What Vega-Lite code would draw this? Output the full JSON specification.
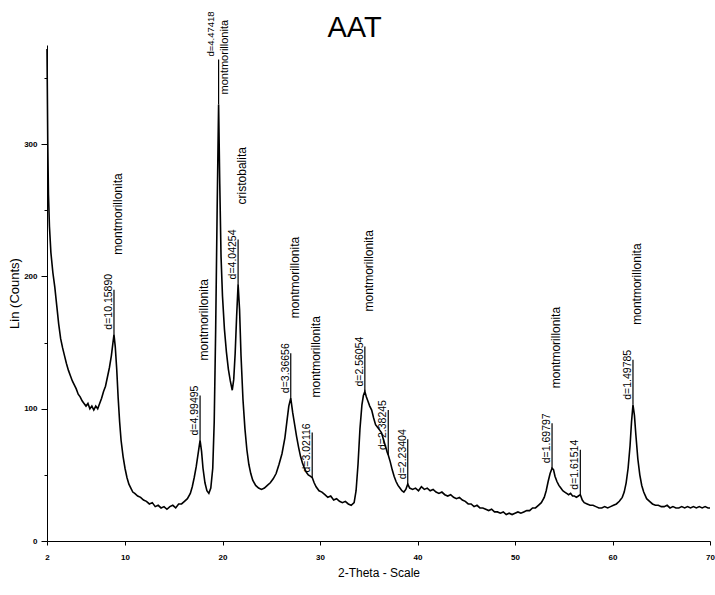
{
  "$schema": "https://vega.github.io/schema/vega-lite/v6.json",
  "width": 663,
  "height": 496,
  "autosize": {"type": "none"},
  "padding": {"left": 47, "top": 45, "right": 5, "bottom": 54},
  "background": "white",
  "title": {"text": "AAT", "font": "Liberation Sans", "fontSize": 29, "fontWeight": "normal", "color": "black", "anchor": "middle", "baseline": "alphabetic", "dx": -24, "dy": 55, "offset": 0},
  "config": {"view": {"stroke": null}, "font": "Liberation Sans"},
  "datasets": {
    "pattern": [
      {"two_theta": 2.0, "counts": 372}, {"two_theta": 2.08, "counts": 300}, {"two_theta": 2.15, "counts": 262}, {"two_theta": 2.25, "counts": 238}, {"two_theta": 2.4, "counts": 218}, {"two_theta": 2.6, "counts": 203}, {"two_theta": 2.8, "counts": 192}, {"two_theta": 3.0, "counts": 178}, {"two_theta": 3.2, "counts": 164}, {"two_theta": 3.4, "counts": 153}, {"two_theta": 3.6, "counts": 146}, {"two_theta": 3.8, "counts": 140}, {"two_theta": 4.0, "counts": 134}, {"two_theta": 4.2, "counts": 129}, {"two_theta": 4.4, "counts": 125}, {"two_theta": 4.6, "counts": 121}, {"two_theta": 4.8, "counts": 118}, {"two_theta": 5.0, "counts": 115}, {"two_theta": 5.2, "counts": 111}, {"two_theta": 5.4, "counts": 109}, {"two_theta": 5.6, "counts": 106}, {"two_theta": 5.8, "counts": 104}, {"two_theta": 6.0, "counts": 102}, {"two_theta": 6.2, "counts": 104}, {"two_theta": 6.4, "counts": 100}, {"two_theta": 6.6, "counts": 102}, {"two_theta": 6.8, "counts": 99}, {"two_theta": 7.0, "counts": 102}, {"two_theta": 7.2, "counts": 100}, {"two_theta": 7.4, "counts": 104}, {"two_theta": 7.6, "counts": 108}, {"two_theta": 7.8, "counts": 113}, {"two_theta": 8.0, "counts": 117}, {"two_theta": 8.2, "counts": 124}, {"two_theta": 8.4, "counts": 131}, {"two_theta": 8.6, "counts": 140}, {"two_theta": 8.75, "counts": 149}, {"two_theta": 8.87, "counts": 156}, {"two_theta": 9.0, "counts": 147}, {"two_theta": 9.15, "counts": 130}, {"two_theta": 9.3, "counts": 108}, {"two_theta": 9.45, "counts": 90}, {"two_theta": 9.6, "counts": 76}, {"two_theta": 9.8, "counts": 64}, {"two_theta": 10.0, "counts": 55}, {"two_theta": 10.2, "counts": 48}, {"two_theta": 10.4, "counts": 43}, {"two_theta": 10.6, "counts": 40}, {"two_theta": 10.8, "counts": 37}, {"two_theta": 11.0, "counts": 36}, {"two_theta": 11.3, "counts": 34}, {"two_theta": 11.6, "counts": 33}, {"two_theta": 11.9, "counts": 31}, {"two_theta": 12.2, "counts": 30}, {"two_theta": 12.5, "counts": 28}, {"two_theta": 12.8, "counts": 29}, {"two_theta": 13.1, "counts": 26}, {"two_theta": 13.4, "counts": 27}, {"two_theta": 13.7, "counts": 25}, {"two_theta": 14.0, "counts": 26}, {"two_theta": 14.3, "counts": 24}, {"two_theta": 14.6, "counts": 26}, {"two_theta": 14.9, "counts": 27}, {"two_theta": 15.2, "counts": 25}, {"two_theta": 15.5, "counts": 28}, {"two_theta": 15.8, "counts": 28}, {"two_theta": 16.1, "counts": 30}, {"two_theta": 16.4, "counts": 32}, {"two_theta": 16.7, "counts": 36}, {"two_theta": 16.9, "counts": 41}, {"two_theta": 17.1, "counts": 48}, {"two_theta": 17.3, "counts": 56}, {"two_theta": 17.5, "counts": 66}, {"two_theta": 17.7, "counts": 76}, {"two_theta": 17.85, "counts": 68}, {"two_theta": 18.0, "counts": 55}, {"two_theta": 18.2, "counts": 44}, {"two_theta": 18.4, "counts": 38}, {"two_theta": 18.6, "counts": 36}, {"two_theta": 18.8, "counts": 40}, {"two_theta": 19.0, "counts": 55}, {"two_theta": 19.15, "counts": 90}, {"two_theta": 19.3, "counts": 160}, {"two_theta": 19.45, "counts": 250}, {"two_theta": 19.6, "counts": 330}, {"two_theta": 19.72, "counts": 270}, {"two_theta": 19.85, "counts": 215}, {"two_theta": 20.0, "counts": 185}, {"two_theta": 20.2, "counts": 160}, {"two_theta": 20.4, "counts": 143}, {"two_theta": 20.6, "counts": 130}, {"two_theta": 20.8, "counts": 121}, {"two_theta": 21.0, "counts": 114}, {"two_theta": 21.15, "counts": 122}, {"two_theta": 21.3, "counts": 142}, {"two_theta": 21.45, "counts": 170}, {"two_theta": 21.6, "counts": 194}, {"two_theta": 21.75, "counts": 175}, {"two_theta": 21.9, "counts": 140}, {"two_theta": 22.1, "counts": 107}, {"two_theta": 22.3, "counts": 85}, {"two_theta": 22.5, "counts": 69}, {"two_theta": 22.7, "counts": 58}, {"two_theta": 22.9, "counts": 51}, {"two_theta": 23.1, "counts": 46}, {"two_theta": 23.4, "counts": 42}, {"two_theta": 23.7, "counts": 40}, {"two_theta": 24.0, "counts": 39}, {"two_theta": 24.3, "counts": 40}, {"two_theta": 24.6, "counts": 42}, {"two_theta": 24.9, "counts": 44}, {"two_theta": 25.2, "counts": 47}, {"two_theta": 25.5, "counts": 51}, {"two_theta": 25.8, "counts": 58}, {"two_theta": 26.1, "counts": 66}, {"two_theta": 26.4, "counts": 78}, {"two_theta": 26.6, "counts": 90}, {"two_theta": 26.8, "counts": 102}, {"two_theta": 27.0, "counts": 108}, {"two_theta": 27.2, "counts": 97}, {"two_theta": 27.4, "counts": 88}, {"two_theta": 27.6, "counts": 79}, {"two_theta": 27.8, "counts": 71}, {"two_theta": 28.0, "counts": 64}, {"two_theta": 28.2, "counts": 59}, {"two_theta": 28.4, "counts": 55}, {"two_theta": 28.6, "counts": 52}, {"two_theta": 28.8, "counts": 50}, {"two_theta": 29.0, "counts": 49}, {"two_theta": 29.2, "counts": 48}, {"two_theta": 29.4, "counts": 44}, {"two_theta": 29.6, "counts": 41}, {"two_theta": 29.9, "counts": 38}, {"two_theta": 30.2, "counts": 37}, {"two_theta": 30.5, "counts": 35}, {"two_theta": 30.8, "counts": 33}, {"two_theta": 31.1, "counts": 34}, {"two_theta": 31.4, "counts": 31}, {"two_theta": 31.7, "counts": 32}, {"two_theta": 32.0, "counts": 30}, {"two_theta": 32.3, "counts": 29}, {"two_theta": 32.6, "counts": 30}, {"two_theta": 32.9, "counts": 28}, {"two_theta": 33.2, "counts": 27}, {"two_theta": 33.5, "counts": 29}, {"two_theta": 33.7, "counts": 38}, {"two_theta": 33.9, "counts": 58}, {"two_theta": 34.1, "counts": 85}, {"two_theta": 34.3, "counts": 103}, {"two_theta": 34.45, "counts": 110}, {"two_theta": 34.6, "counts": 113}, {"two_theta": 34.75, "counts": 109}, {"two_theta": 34.9, "counts": 106}, {"two_theta": 35.1, "counts": 102}, {"two_theta": 35.3, "counts": 99}, {"two_theta": 35.5, "counts": 93}, {"two_theta": 35.7, "counts": 88}, {"two_theta": 35.9, "counts": 86}, {"two_theta": 36.1, "counts": 84}, {"two_theta": 36.3, "counts": 82}, {"two_theta": 36.5, "counts": 77}, {"two_theta": 36.7, "counts": 72}, {"two_theta": 36.9, "counts": 67}, {"two_theta": 37.0, "counts": 65}, {"two_theta": 37.2, "counts": 60}, {"two_theta": 37.4, "counts": 54}, {"two_theta": 37.6, "counts": 49}, {"two_theta": 37.8, "counts": 45}, {"two_theta": 38.0, "counts": 42}, {"two_theta": 38.2, "counts": 40}, {"two_theta": 38.4, "counts": 38}, {"two_theta": 38.6, "counts": 37}, {"two_theta": 38.8, "counts": 39}, {"two_theta": 39.0, "counts": 43}, {"two_theta": 39.2, "counts": 40}, {"two_theta": 39.5, "counts": 39}, {"two_theta": 39.8, "counts": 40}, {"two_theta": 40.1, "counts": 38}, {"two_theta": 40.4, "counts": 41}, {"two_theta": 40.7, "counts": 39}, {"two_theta": 41.0, "counts": 40}, {"two_theta": 41.3, "counts": 38}, {"two_theta": 41.6, "counts": 39}, {"two_theta": 41.9, "counts": 37}, {"two_theta": 42.2, "counts": 36}, {"two_theta": 42.5, "counts": 37}, {"two_theta": 42.8, "counts": 35}, {"two_theta": 43.1, "counts": 34}, {"two_theta": 43.4, "counts": 35}, {"two_theta": 43.7, "counts": 33}, {"two_theta": 44.0, "counts": 32}, {"two_theta": 44.3, "counts": 33}, {"two_theta": 44.6, "counts": 31}, {"two_theta": 44.9, "counts": 30}, {"two_theta": 45.2, "counts": 28}, {"two_theta": 45.5, "counts": 28}, {"two_theta": 45.8, "counts": 26}, {"two_theta": 46.1, "counts": 27}, {"two_theta": 46.4, "counts": 25}, {"two_theta": 46.7, "counts": 25}, {"two_theta": 47.0, "counts": 24}, {"two_theta": 47.3, "counts": 23}, {"two_theta": 47.6, "counts": 24}, {"two_theta": 47.9, "counts": 22}, {"two_theta": 48.2, "counts": 22}, {"two_theta": 48.5, "counts": 21}, {"two_theta": 48.8, "counts": 22}, {"two_theta": 49.1, "counts": 20}, {"two_theta": 49.4, "counts": 21}, {"two_theta": 49.7, "counts": 20}, {"two_theta": 50.0, "counts": 21}, {"two_theta": 50.3, "counts": 22}, {"two_theta": 50.6, "counts": 21}, {"two_theta": 50.9, "counts": 22}, {"two_theta": 51.2, "counts": 23}, {"two_theta": 51.5, "counts": 23}, {"two_theta": 51.8, "counts": 25}, {"two_theta": 52.1, "counts": 25}, {"two_theta": 52.4, "counts": 27}, {"two_theta": 52.7, "counts": 29}, {"two_theta": 53.0, "counts": 33}, {"two_theta": 53.2, "counts": 38}, {"two_theta": 53.4, "counts": 45}, {"two_theta": 53.6, "counts": 51}, {"two_theta": 53.8, "counts": 55}, {"two_theta": 53.95, "counts": 54}, {"two_theta": 54.1, "counts": 49}, {"two_theta": 54.3, "counts": 45}, {"two_theta": 54.5, "counts": 42}, {"two_theta": 54.7, "counts": 40}, {"two_theta": 54.9, "counts": 38}, {"two_theta": 55.1, "counts": 37}, {"two_theta": 55.3, "counts": 36}, {"two_theta": 55.5, "counts": 35}, {"two_theta": 55.7, "counts": 36}, {"two_theta": 55.9, "counts": 34}, {"two_theta": 56.1, "counts": 34}, {"two_theta": 56.3, "counts": 33}, {"two_theta": 56.5, "counts": 34}, {"two_theta": 56.7, "counts": 35}, {"two_theta": 56.9, "counts": 31}, {"two_theta": 57.1, "counts": 29}, {"two_theta": 57.4, "counts": 28}, {"two_theta": 57.7, "counts": 27}, {"two_theta": 58.0, "counts": 27}, {"two_theta": 58.3, "counts": 26}, {"two_theta": 58.6, "counts": 25}, {"two_theta": 58.9, "counts": 25}, {"two_theta": 59.2, "counts": 26}, {"two_theta": 59.5, "counts": 25}, {"two_theta": 59.8, "counts": 26}, {"two_theta": 60.1, "counts": 27}, {"two_theta": 60.4, "counts": 28}, {"two_theta": 60.7, "counts": 30}, {"two_theta": 61.0, "counts": 33}, {"two_theta": 61.2, "counts": 37}, {"two_theta": 61.4, "counts": 44}, {"two_theta": 61.6, "counts": 55}, {"two_theta": 61.8, "counts": 72}, {"two_theta": 61.95, "counts": 90}, {"two_theta": 62.1, "counts": 103}, {"two_theta": 62.25, "counts": 95}, {"two_theta": 62.4, "counts": 80}, {"two_theta": 62.6, "counts": 62}, {"two_theta": 62.8, "counts": 50}, {"two_theta": 63.0, "counts": 42}, {"two_theta": 63.2, "counts": 37}, {"two_theta": 63.5, "counts": 32}, {"two_theta": 63.8, "counts": 30}, {"two_theta": 64.1, "counts": 28}, {"two_theta": 64.4, "counts": 27}, {"two_theta": 64.7, "counts": 27}, {"two_theta": 65.0, "counts": 26}, {"two_theta": 65.3, "counts": 26}, {"two_theta": 65.6, "counts": 27}, {"two_theta": 65.9, "counts": 25}, {"two_theta": 66.2, "counts": 26}, {"two_theta": 66.5, "counts": 25}, {"two_theta": 66.8, "counts": 25}, {"two_theta": 67.1, "counts": 26}, {"two_theta": 67.4, "counts": 25}, {"two_theta": 67.7, "counts": 26}, {"two_theta": 68.0, "counts": 25}, {"two_theta": 68.3, "counts": 26}, {"two_theta": 68.6, "counts": 25}, {"two_theta": 68.9, "counts": 26}, {"two_theta": 69.2, "counts": 25}, {"two_theta": 69.5, "counts": 26}, {"two_theta": 69.8, "counts": 25}, {"two_theta": 70.0, "counts": 25}
    ],
    "peaks": [
      {"two_theta": 8.87, "counts": 156, "d": "d=10.15890", "mineral": "montmorillonita"},
      {"two_theta": 17.7, "counts": 76, "d": "d=4.99495", "mineral": "montmorillonita"},
      {"two_theta": 19.6, "counts": 330, "d": "d=4.47418", "mineral": "montmorillonita"},
      {"two_theta": 21.6, "counts": 194, "d": "d=4.04254", "mineral": "cristobalita"},
      {"two_theta": 27.0, "counts": 108, "d": "d=3.36656", "mineral": "montmorillonita"},
      {"two_theta": 29.2, "counts": 48, "d": "d=3.02116", "mineral": "montmorillonita"},
      {"two_theta": 34.6, "counts": 113, "d": "d=2.56054", "mineral": "montmorillonita"},
      {"two_theta": 37.0, "counts": 65, "d": "d=2.38245", "mineral": ""},
      {"two_theta": 39.0, "counts": 43, "d": "d=2.23404", "mineral": ""},
      {"two_theta": 53.8, "counts": 55, "d": "d=1.69797", "mineral": "montmorillonita"},
      {"two_theta": 56.7, "counts": 35, "d": "d=1.61514", "mineral": ""},
      {"two_theta": 62.1, "counts": 103, "d": "d=1.49785", "mineral": "montmorillonita"}
    ]
  },
  "layer": [
    {
      "data": {"name": "pattern"},
      "mark": {"type": "line", "color": "black", "strokeWidth": 1.6},
      "encoding": {
        "x": {"field": "two_theta", "type": "quantitative", "scale": {"domain": [2, 70], "nice": false, "zero": false},
          "axis": {"title": "2-Theta - Scale", "values": [2, 10, 20, 30, 40, 50, 60, 70], "grid": false, "domainColor": "black", "tickColor": "black", "tickSize": 4, "labelFontSize": 8, "labelFontWeight": "bold", "labelColor": "black", "labelPadding": 8, "labelFlush": false, "titleFontSize": 12, "titleFontWeight": "normal", "titleColor": "black", "titlePadding": 6}},
        "y": {"field": "counts", "type": "quantitative", "scale": {"domain": [0, 375], "nice": false},
          "axis": {"title": "Lin (Counts)", "values": [0, 50, 100, 150, 200, 250, 300, 350], "labelExpr": "datum.value % 100 === 0 ? datum.label : ''", "tickSize": {"condition": {"test": "datum.value % 100 === 0", "value": 6}, "value": 3}, "grid": false, "domainColor": "black", "tickColor": "black", "labelFontSize": 8, "labelFontWeight": "bold", "labelColor": "black", "labelPadding": 4, "titleFontSize": 13, "titleFontWeight": "normal", "titleColor": "black", "titlePadding": 2}}
      }
    },
    {
      "data": {"name": "peaks"},
      "mark": {"type": "rule", "color": "black", "stroke": "black", "strokeWidth": 1.2, "y2Offset": -45},
      "encoding": {
        "x": {"field": "two_theta", "type": "quantitative"},
        "y": {"field": "counts", "type": "quantitative"},
        "y2": {"field": "counts"}
      }
    },
    {
      "data": {"name": "peaks"},
      "transform": [{"filter": "datum.counts < 300"}],
      "mark": {"type": "text", "angle": 270, "align": "left", "baseline": "middle", "dx": 5, "dy": -5, "fontSize": 10.5, "color": "black"},
      "encoding": {
        "x": {"field": "two_theta", "type": "quantitative"},
        "y": {"field": "counts", "type": "quantitative"},
        "text": {"field": "d"}
      }
    },
    {
      "data": {"name": "peaks"},
      "transform": [{"filter": "datum.counts < 300 && datum.mineral != ''"}],
      "mark": {"type": "text", "angle": 270, "align": "left", "baseline": "middle", "dx": 80, "dy": 4, "fontSize": 12, "color": "black"},
      "encoding": {
        "x": {"field": "two_theta", "type": "quantitative"},
        "y": {"field": "counts", "type": "quantitative"},
        "text": {"field": "mineral"}
      }
    },
    {
      "data": {"name": "peaks"},
      "transform": [{"filter": "datum.counts >= 300"}],
      "mark": {"type": "text", "angle": 270, "align": "left", "baseline": "middle", "dx": 48, "dy": -8, "fontSize": 9.5, "color": "black"},
      "encoding": {
        "x": {"field": "two_theta", "type": "quantitative"},
        "y": {"field": "counts", "type": "quantitative"},
        "text": {"field": "d"}
      }
    },
    {
      "data": {"name": "peaks"},
      "transform": [{"filter": "datum.counts >= 300"}],
      "mark": {"type": "text", "angle": 270, "align": "left", "baseline": "middle", "dx": 10, "dy": 6, "fontSize": 11, "color": "black"},
      "encoding": {
        "x": {"field": "two_theta", "type": "quantitative"},
        "y": {"field": "counts", "type": "quantitative"},
        "text": {"field": "mineral"}
      }
    }
  ]
}
